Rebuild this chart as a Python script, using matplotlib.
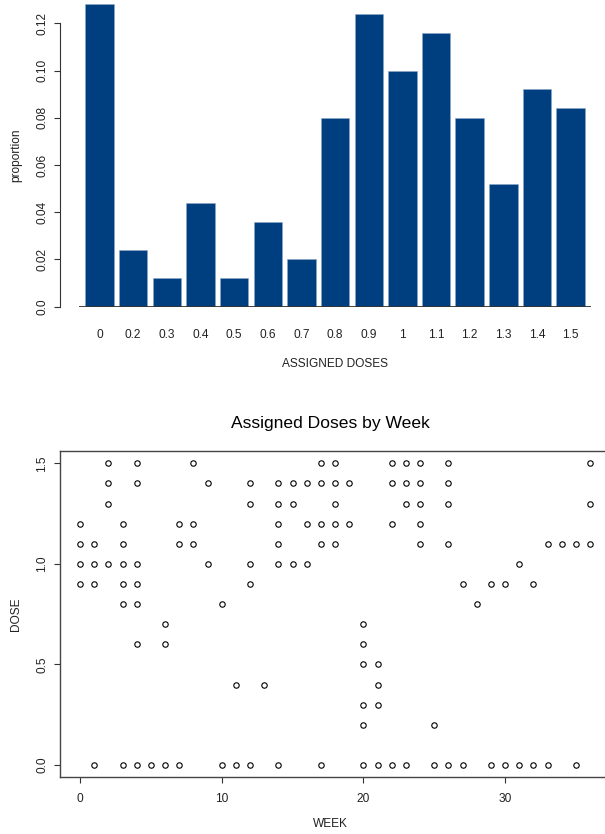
import matplotlib
matplotlib.use("Agg")
import matplotlib.pyplot as plt
import numpy as np

plt.rcParams['font.family'] = ['Liberation Sans', 'DejaVu Sans']

# proportion of assigned doses
dose_labels = ["0", "0.2", "0.3", "0.4", "0.5", "0.6", "0.7", "0.8",
               "0.9", "1", "1.1", "1.2", "1.3", "1.4", "1.5"]
proportions = [0.128, 0.024, 0.012, 0.044, 0.012, 0.036, 0.020, 0.080,
               0.124, 0.100, 0.116, 0.080, 0.052, 0.092, 0.084]

# assigned dose per week (one entry per assignment)
weeks = [0, 0, 0, 0,
         1, 1, 1, 1,
         2, 2, 2, 2,
         3, 3, 3, 3, 3, 3,
         4, 4, 4, 4, 4, 4, 4,
         5,
         6, 6, 6,
         7, 7, 7,
         8, 8, 8,
         9, 9,
         10, 10,
         11, 11,
         12, 12, 12, 12, 12,
         13,
         14, 14, 14, 14, 14, 14,
         15, 15, 15,
         16, 16, 16,
         17, 17, 17, 17, 17,
         18, 18, 18, 18, 18,
         19, 19,
         20, 20, 20, 20, 20, 20,
         21, 21, 21, 21,
         22, 22, 22, 22,
         23, 23, 23, 23,
         24, 24, 24, 24, 24,
         25, 25,
         26, 26, 26, 26, 26,
         27, 27,
         28,
         29, 29,
         30, 30,
         31, 31,
         32, 32,
         33, 33,
         34,
         35, 35,
         36, 36, 36]
doses = [1.2, 1.1, 1.0, 0.9,
         1.1, 1.0, 0.9, 0.0,
         1.5, 1.4, 1.3, 1.0,
         1.2, 1.1, 1.0, 0.9, 0.8, 0.0,
         1.5, 1.4, 1.0, 0.9, 0.8, 0.6, 0.0,
         0.0,
         0.7, 0.6, 0.0,
         1.2, 1.1, 0.0,
         1.5, 1.2, 1.1,
         1.4, 1.0,
         0.8, 0.0,
         0.4, 0.0,
         1.4, 1.3, 1.0, 0.9, 0.0,
         0.4,
         1.4, 1.3, 1.2, 1.1, 1.0, 0.0,
         1.4, 1.3, 1.0,
         1.4, 1.2, 1.0,
         1.5, 1.4, 1.2, 1.1, 0.0,
         1.5, 1.4, 1.3, 1.2, 1.1,
         1.4, 1.2,
         0.7, 0.6, 0.5, 0.3, 0.2, 0.0,
         0.5, 0.4, 0.3, 0.0,
         1.5, 1.4, 1.2, 0.0,
         1.5, 1.4, 1.3, 0.0,
         1.5, 1.4, 1.3, 1.2, 1.1,
         0.2, 0.0,
         1.5, 1.4, 1.3, 1.1, 0.0,
         0.9, 0.0,
         0.8,
         0.9, 0.0,
         0.9, 0.0,
         1.0, 0.0,
         0.9, 0.0,
         1.1, 0.0,
         1.1,
         1.1, 0.0,
         1.5, 1.3, 1.1]

W, H = 605, 834
fig = plt.figure(figsize=(W / 100, H / 100), dpi=100)

def px_box(left, top, right, bottom):
    return [left / W, 1 - bottom / H, (right - left) / W, (bottom - top) / H]

txt = '#222222'
fs = 8.6

## Bar chart of proportions
ax1 = fig.add_axes(px_box(60, 4.4, 610, 306.7))
x = np.arange(len(proportions))
ax1.bar(x, proportions, width=0.845, color='#003f7f',
        edgecolor='#8fa8c8', linewidth=0.4)
ax1.hlines(0, -0.6, len(proportions) - 0.4, color='#333333', lw=1.3)
ax1.set_xlim(-1.174, 15.17)
ax1.set_ylim(0, max(proportions))
for s in ['top', 'right', 'bottom']:
    ax1.spines[s].set_visible(False)
ax1.spines['left'].set_bounds(0, 0.12)
ax1.spines['left'].set_color('#333333')
ax1.set_yticks([0, 0.02, 0.04, 0.06, 0.08, 0.10, 0.12])
ax1.set_yticklabels(["0.0", "0.02", "0.04", "0.06", "0.08", "0.10", "0.12"],
                    rotation=90, va='center')
ax1.set_xticks(x)
ax1.set_xticklabels(dose_labels)
ax1.tick_params(axis='x', length=0, pad=16, labelsize=fs, labelcolor=txt)
ax1.tick_params(axis='y', length=4.3, width=0.8, pad=4, labelsize=fs,
                labelcolor=txt, color='#333333')
ax1.set_xlabel('ASSIGNED DOSES', fontsize=fs, color=txt, labelpad=12)
ax1.set_ylabel('proportion', fontsize=fs, color=txt, labelpad=10)

## Scatter of doses by week (box runs past the right edge)
right_px = 700
ax2 = fig.add_axes(px_box(59.6, 451.3, right_px, 777))
ax2.plot(weeks, doses, 'o', ms=3.9, mfc='none', mec='black', mew=0.8)
ax2.set_xlim(-1.44, 36 + (right_px - 590.1) / 14.17)
ax2.set_ylim(-0.06, 1.56)
for s in ax2.spines.values():
    s.set_color('#444444')
    s.set_linewidth(1.0)
ax2.spines['right'].set_visible(False)
ax2.set_xticks([0, 10, 20, 30])
ax2.set_yticks([0, 0.5, 1.0, 1.5])
ax2.set_yticklabels(["0.0", "0.5", "1.0", "1.5"], rotation=90, va='center')
ax2.tick_params(length=4.3, width=0.8, labelsize=fs, labelcolor=txt,
                color='#333333')
ax2.tick_params(axis='x', pad=7)
ax2.tick_params(axis='y', pad=4)
frac = (330 - 59.6) / (right_px - 59.6)
ax2.set_title('Assigned Doses by Week', fontsize=12.6, color='black', pad=16.5)
ax2.title.set_position((frac, 1.0))
ax2.set_xlabel('WEEK', fontsize=fs, color=txt, labelpad=9)
ax2.set_ylabel('DOSE', fontsize=fs, color=txt, labelpad=10)
ax2.xaxis.set_label_coords(frac, -0.125)

fig.savefig('out.png', dpi=100)
